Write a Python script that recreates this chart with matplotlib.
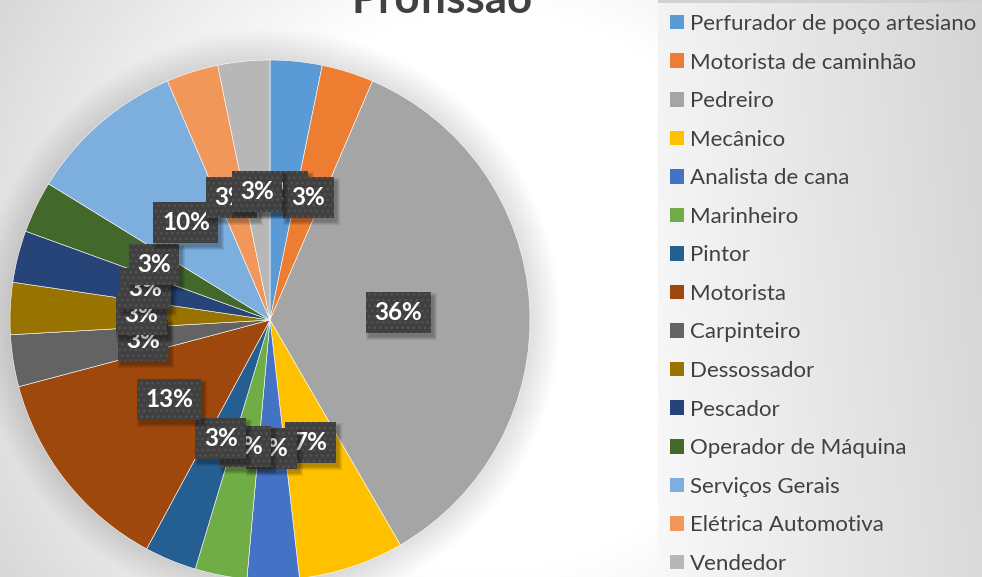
import numpy as np
import matplotlib
matplotlib.use("Agg")
import matplotlib.pyplot as plt
from matplotlib.patches import Rectangle, Circle

categories = ["Perfurador de poço artesiano", "Motorista de caminhão", "Pedreiro", "Mecânico",
              "Analista de cana", "Marinheiro", "Pintor", "Motorista", "Carpinteiro",
              "Dessossador", "Pescador", "Operador de Máquina", "Serviços Gerais",
              "Elétrica Automotiva", "Vendedor"]
values = [3.3, 3.3, 36.0, 6.7, 3.3, 3.3, 3.3, 13.3, 3.3, 3.3, 3.3, 3.3, 10.0, 3.3, 3.3]
colors = ["#5B9BD5", "#ED7D31", "#A5A5A5", "#FFC000", "#4472C4", "#70AD47", "#255E91",
          "#9E480E", "#636363", "#997300", "#264478", "#43682B", "#7CAFDD", "#F1975A", "#B7B7B7"]
title = "Profissão"

W, H = 982, 577
FONT = ["Lato", "DejaVu Sans"]
fig = plt.figure(figsize=(W / 100, H / 100), dpi=100)

# ---- background (radial gradient + legend panel) ----
bg = fig.add_axes([0, 0, 1, 1])
bg.set_axis_off()
yy, xx = np.mgrid[0:H, 0:W]
d = np.hypot(xx - 490, yy - 290)
v = 1 - np.clip((d - 280) / 300, 0, 1) * 0.16
lx0, ly0 = 658, 3
t = np.clip((xx - lx0) / (W - lx0), 0, 1)
pv = 0.975 - 0.12 * t - 0.02 * (1 - yy / H)
mask = (xx >= lx0) & (yy >= ly0)
v = np.where(mask, pv, v)
top = (xx >= lx0) & (yy < ly0)
v = np.where(top, 0.82, v)
bg.imshow(np.dstack([v, v, v]), aspect="auto", interpolation="bilinear")
bg.set_position([0, 0, 1, 1])

# ---- main axes in pixel units (y up) ----
ax = fig.add_axes([0, 0, 1, 1])
ax.patch.set_alpha(0)
cx, cy, R = 270, H - 320, 260

# soft shadow around the pie
for k in range(1, 32):
    ax.add_patch(Circle((cx, cy), R + k, facecolor="black", edgecolor="none",
                        alpha=0.005, zorder=0.5))

total = sum(values)
wedges, texts, autotexts = ax.pie(
    values, colors=colors, startangle=90, counterclock=False,
    center=(cx, cy), radius=R, pctdistance=0.495,
    autopct=lambda p: f"{round(p * total / 100):.0f}%",
    wedgeprops=dict(edgecolor="white", linewidth=0.4),
    textprops=dict(color="white", fontsize=17.5, fontweight="bold", family=FONT))
ax.set_xlim(0, W)
ax.set_ylim(0, H)
ax.set_aspect("auto")
ax.set_axis_off()

for i, at in enumerate(autotexts):
    at.set_zorder(5 + i * 0.01)

# label boxes with drop shadows, stacked in series order
fig.canvas.draw()
inv = ax.transData.inverted()
for i, at in enumerate(autotexts):
    bb = at.get_window_extent()
    (x0, y0), (x1, y1) = inv.transform([[bb.x0, bb.y0], [bb.x1, bb.y1]])
    xm, ym = (x0 + x1) / 2, (y0 + y1) / 2
    bw, bh = (x1 - x0) + 17, 41
    z = 5 + i * 0.01
    for g in range(4):
        ax.add_patch(Rectangle((xm - bw / 2 + 3 - g, ym - bh / 2 - 4 - g), bw + 2 * g, bh + 2 * g,
                               facecolor="black", edgecolor="none", alpha=0.08,
                               zorder=z - 0.006))
    ax.add_patch(Rectangle((xm - bw / 2, ym - bh / 2), bw, bh, facecolor="#404040",
                           edgecolor="#535353", linewidth=0, hatch="...", zorder=z - 0.003))

# title (partly cut off at the top, as in the reference)
ax.text(442, H - 13, title, ha="center", va="baseline", fontsize=31.5, fontweight="bold",
        color="#404040", family=FONT)

# legend
handles = [Rectangle((0, 0), 1, 1, facecolor=c, edgecolor="none") for c in colors]
fig.legend(handles, categories, loc="upper left", bbox_to_anchor=(670 / W, 1 - 14 / H),
           frameon=False, prop=dict(family=FONT, size=16), labelcolor="#404040",
           handlelength=0.63, handleheight=0.63, handletextpad=0.27, labelspacing=0.835,
           borderpad=0, borderaxespad=0)

fig.savefig("out.png", dpi=100)
